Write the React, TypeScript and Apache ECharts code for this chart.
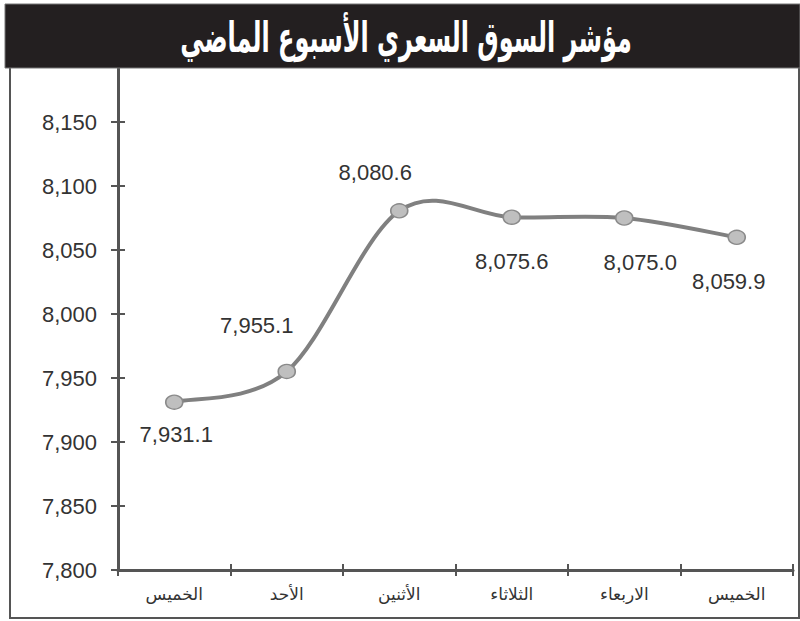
import React, { useEffect, useRef } from "react";
import * as echarts from "echarts";

const titleText = "مؤشر السوق السعري الأسبوع الماضي";
const categories = ["الخميس", "الأحد", "الأثنين", "الثلاثاء", "الاربعاء", "الخميس"];
const values = [7931.1, 7955.1, 8080.6, 8075.6, 8075.0, 8059.9];
const labelOffsets: [number, number][] = [
  [2, 32],
  [-30, -46],
  [-24, -38],
  [0, 44],
  [16, 44],
  [-8, 44],
];

const fmt = (v: number, d = 0) =>
  v.toLocaleString("en-US", { minimumFractionDigits: d, maximumFractionDigits: d });

export default function App() {
  const ref = useRef<HTMLDivElement>(null);
  useEffect(() => {
    if (!ref.current) return;
    const chart = echarts.init(ref.current, null, { renderer: "svg" });
    const axisColor = "#555";
    const n = values.length;
    chart.setOption({
      animation: false,
      backgroundColor: "#fff",
      grid: { left: 118, right: 7, top: 58, bottom: 51, containLabel: false },
      xAxis: [
        {
          type: "category",
          data: categories,
          boundaryGap: true,
          axisLine: { lineStyle: { color: axisColor, width: 3 } },
          axisTick: { show: true, length: 6, lineStyle: { color: axisColor, width: 2 } },
          axisLabel: {
            color: "#333",
            fontSize: 17,
            fontFamily: "DejaVu Sans",
            margin: 15,
          },
          splitLine: { show: false },
        },
        {
          type: "category",
          data: categories,
          position: "bottom",
          boundaryGap: true,
          axisLine: { show: false },
          axisTick: { show: true, inside: true, length: 6, lineStyle: { color: axisColor, width: 2 } },
          axisLabel: { show: false },
          splitLine: { show: false },
        },
      ],
      yAxis: [
        {
          type: "value",
          min: 7800,
          max: 8200,
          interval: 50,
          axisLine: { show: true, lineStyle: { color: axisColor, width: 3 } },
          axisTick: { show: true, length: 7, lineStyle: { color: axisColor, width: 2 } },
          axisLabel: {
            color: "#333",
            fontSize: 22,
            fontFamily: "Liberation Sans",
            margin: 21,
            formatter: (v: number) => (v > 8150 ? "" : fmt(v)),
          },
          splitLine: { show: false },
        },
        {
          type: "value",
          min: 7800,
          max: 8200,
          interval: 50,
          position: "left",
          axisLine: { show: false },
          axisTick: { show: true, inside: true, length: 7, lineStyle: { color: axisColor, width: 2 } },
          axisLabel: { show: false },
          splitLine: { show: false },
        },
      ],
      graphic: [
        {
          type: "rect",
          z: 100,
          shape: { x: 10, y: 66, width: 789, height: 552 },
          style: { fill: "none", stroke: "#555", lineWidth: 2 },
        },
        {
          type: "rect",
          z: 101,
          shape: { x: 5, y: 4, width: 795, height: 64 },
          style: { fill: "#231f20", stroke: "#777", lineWidth: 1 },
        },
        {
          type: "text",
          z: 102,
          x: 406,
          y: 37,
          scaleX: 0.57,
          style: {
            text: titleText,
            fill: "#fff",
            font: "bold 42px 'DejaVu Sans'",
            align: "center",
            verticalAlign: "middle",
          },
        },
      ],
      series: [
        {
          type: "custom",
          xAxisIndex: 0,
          yAxisIndex: 0,
          data: values.map((v, i) => [i, v]),
          z: 2,
          silent: true,
          renderItem: (params: any, api: any) => {
            const i = params.dataIndex;
            if (i >= n - 1) return null;
            const p = (k: number) => {
              const kk = Math.max(0, Math.min(n - 1, k));
              return api.coord([kk, values[kk]]);
            };
            const p0 = p(i - 1);
            const p1 = p(i);
            const p2 = p(i + 1);
            const p3 = p(i + 2);
            const t = 1 / 6;
            return {
              type: "bezierCurve",
              shape: {
                x1: p1[0],
                y1: p1[1],
                x2: p2[0],
                y2: p2[1],
                cpx1: p1[0] + (p2[0] - p0[0]) * t,
                cpy1: p1[1] + (p2[1] - p0[1]) * t,
                cpx2: p2[0] - (p3[0] - p1[0]) * t,
                cpy2: p2[1] - (p3[1] - p1[1]) * t,
              },
              style: { stroke: "#808080", lineWidth: 4, fill: "none" },
            };
          },
        },
        {
          type: "line",
          data: values.map((v, i) => ({
            value: v,
            label: { offset: labelOffsets[i] },
          })),
          lineStyle: { opacity: 0, width: 0 },
          symbol: "circle",
          symbolSize: [17, 14],
          itemStyle: { color: "#bfbfbf", borderColor: "#8a8a8a", borderWidth: 1.5 },
          label: {
            show: true,
            position: "inside",
            color: "#333",
            fontSize: 22,
            fontFamily: "Liberation Sans",
            formatter: (p: any) => fmt(p.value, 1),
          },
          z: 3,
        },
      ],
    });
    return () => chart.dispose();
  }, []);
  return <div ref={ref} style={{ width: 800, height: 621, position: "absolute", left: 0, top: 0 }} />;
}
